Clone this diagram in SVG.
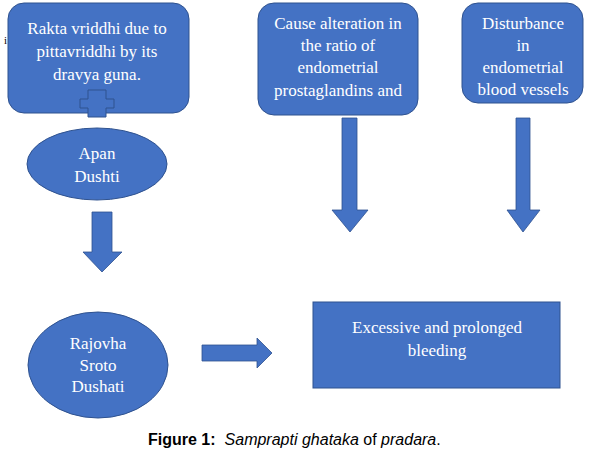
<svg xmlns="http://www.w3.org/2000/svg" width="596" height="458" viewBox="0 0 596 458">
<style>
.n{fill:#4472C4;stroke:#2F528F;stroke-width:1}
.t{font-family:"Liberation Serif",serif;font-size:17px;fill:#fff;text-anchor:middle}
.a{fill:#4472C4;stroke:#2F528F;stroke-width:0.8}
.cap{font-family:"Liberation Sans",Arial,sans-serif;font-size:16px;fill:#000}
</style>
<rect width="596" height="458" fill="#fff"/>
<text x="4" y="44" style="font-family:'Liberation Serif',serif;font-size:11px;fill:#000">i</text>
<g id="n1">
<rect class="n" x="8" y="3" width="181" height="110" rx="16"/>
<text class="t" x="97" y="34">Rakta vriddhi due to</text>
<text class="t" x="97" y="57">pittavriddhi by its</text>
<text class="t" x="97" y="80">dravya guna.</text>
<path d="M88,90 H106 V99 H114 V108 H106 V117 H88 V108 H80 V99 H88 Z" fill="#4472C4" stroke="#2F528F" stroke-width="1"/>
</g>
<g id="n2">
<rect class="n" x="258" y="3" width="160" height="112" rx="16"/>
<text class="t" x="338" y="29">Cause alteration in</text>
<text class="t" x="338" y="51">the ratio of</text>
<text class="t" x="338" y="73">endometrial</text>
<text class="t" x="338" y="96">prostaglandins and</text>
</g>
<g id="n3">
<rect class="n" x="462" y="3" width="121" height="100" rx="16"/>
<text class="t" x="523" y="29">Disturbance</text>
<text class="t" x="523" y="51">in</text>
<text class="t" x="523" y="73">endometrial</text>
<text class="t" x="523" y="95">blood vessels</text>
</g>
<g id="n4">
<ellipse class="n" cx="97" cy="164" rx="70" ry="36"/>
<text class="t" x="97" y="159">Apan</text>
<text class="t" x="97" y="182">Dushti</text>
</g>
<g id="n5">
<ellipse class="n" cx="98" cy="365" rx="70" ry="53"/>
<text class="t" x="98" y="349">Rajovha</text>
<text class="t" x="98" y="371">Sroto</text>
<text class="t" x="98" y="392">Dushati</text>
</g>
<g id="n6">
<rect class="n" x="313" y="302" width="247" height="86"/>
<text class="t" x="437" y="333">Excessive and prolonged</text>
<text class="t" x="437" y="356">bleeding</text>
</g>
<g id="connectors">
<path class="a" d="M92,212 H112 V252 H122 L102,272 L83,252 H92 Z"/>
<path class="a" d="M342,118 H357 V210 H368 L350,232 L332,210 H342 Z"/>
<path class="a" d="M516,118 H530 V210 H540 L523,232 L507,210 H516 Z"/>
<path class="a" d="M202,345 H257 V338 L272,353 L257,368 V361 H202 Z"/>
</g>
<text class="cap" x="148" y="445"><tspan font-weight="bold">Figure 1:</tspan><tspan font-style="italic" dx="9">Samprapti ghataka</tspan> of <tspan font-style="italic">pradara</tspan>.</text>
</svg>
